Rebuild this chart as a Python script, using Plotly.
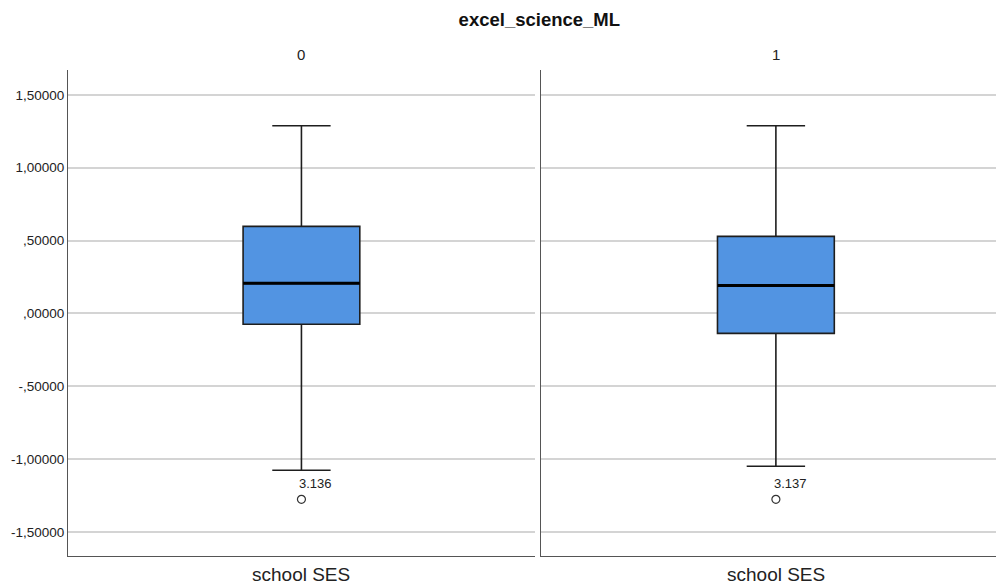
import plotly.graph_objects as go
from plotly.subplots import make_subplots

# Summary statistics of school SES, split by excel_science_ML group
groups = ["0", "1"]
upper_whisker = [1.287, 1.287]
q3 = [0.597, 0.528]
median = [0.206, 0.192]
q1 = [-0.075, -0.137]
lower_whisker = [-1.077, -1.049]
outlier_values = [-1.276, -1.276]
outlier_ids = ["3.136", "3.137"]

tick_values = [1.5, 1.0, 0.5, 0.0, -0.5, -1.0, -1.5]
tick_labels = ["1,50000", "1,00000", ",50000", ",00000", "-,50000", "-1,00000", "-1,50000"]

axis_title = "school SES"
chart_title = "excel_science_ML"

FONT = "Liberation Sans, Arial, sans-serif"
BOX_FILL = "#5294e2"
BOX_WIDTH = 0.5

fig = make_subplots(rows=1, cols=2, shared_yaxes=True, horizontal_spacing=0.006)

for i, g in enumerate(groups):
    col = i + 1
    fig.add_trace(
        go.Box(
            x=[0],
            q1=[q1[i]],
            median=[median[i]],
            q3=[q3[i]],
            lowerfence=[lower_whisker[i]],
            upperfence=[upper_whisker[i]],
            width=BOX_WIDTH,
            whiskerwidth=0.5,
            fillcolor=BOX_FILL,
            line=dict(color="#1e1e1e", width=1.6),
            boxpoints=False,
            hoverinfo="skip",
            showlegend=False,
        ),
        row=1, col=col,
    )
    # heavier median line across the box
    fig.add_trace(
        go.Scatter(
            x=[-BOX_WIDTH / 2, BOX_WIDTH / 2],
            y=[median[i], median[i]],
            mode="lines",
            line=dict(color="black", width=3),
            hoverinfo="skip",
            showlegend=False,
        ),
        row=1, col=col,
    )
    # outlier
    fig.add_trace(
        go.Scatter(
            x=[0],
            y=[outlier_values[i]],
            mode="markers",
            marker=dict(symbol="circle-open", size=8, color="#333333", line=dict(width=1.2)),
            hoverinfo="skip",
            showlegend=False,
        ),
        row=1, col=col,
    )
    xref = "x" if col == 1 else "x2"
    fig.add_annotation(
        x=0, y=outlier_values[i], xref=xref, yref="y",
        text=outlier_ids[i], showarrow=False,
        xanchor="left", yanchor="bottom", xshift=-4, yshift=6,
        font=dict(family=FONT, size=13, color="#222222"),
    )
    # panel header
    fig.add_annotation(
        x=0, y=1, xref=xref, yref="paper",
        text=g, showarrow=False, yanchor="bottom", yshift=5,
        font=dict(family=FONT, size=15, color="#222222"),
    )
    # axis label under each panel
    fig.add_annotation(
        x=0, y=0, xref=xref, yref="paper",
        text=axis_title, showarrow=False, yanchor="top", yshift=-6,
        font=dict(family=FONT, size=19, color="#222222"),
    )

axis_common = dict(
    showgrid=False, zeroline=False, showticklabels=False, ticks="",
    showline=True, linecolor="#555555", linewidth=1.2,
)
fig.update_xaxes(axis_common)
fig.update_xaxes(range=[-1, 1], domain=[0.0683, 0.537], row=1, col=1)
fig.update_xaxes(range=[-1.006, 0.942], domain=[0.543, 1.0], row=1, col=2)

fig.update_yaxes(
    range=[-1.665, 1.67],
    tickvals=tick_values,
    ticktext=tick_labels,
    showgrid=True, gridcolor="#d4d4d4", gridwidth=1.5,
    zeroline=False, ticks="",
    showline=True, linecolor="#555555", linewidth=1.2,
    tickfont=dict(family=FONT, size=13.5, color="#222222"),
)
fig.update_yaxes(showticklabels=False, row=1, col=2)

fig.update_layout(
    width=996, height=584,
    margin=dict(l=0, r=0, t=70, b=28),
    paper_bgcolor="white", plot_bgcolor="white",
    title=dict(
        text="<b>" + chart_title + "</b>",
        x=0.5415, xanchor="center", y=1 - 20 / 584, yanchor="middle",
        font=dict(family=FONT, size=18.5, color="#111111"),
    ),
)

fig.write_html("out.html")
